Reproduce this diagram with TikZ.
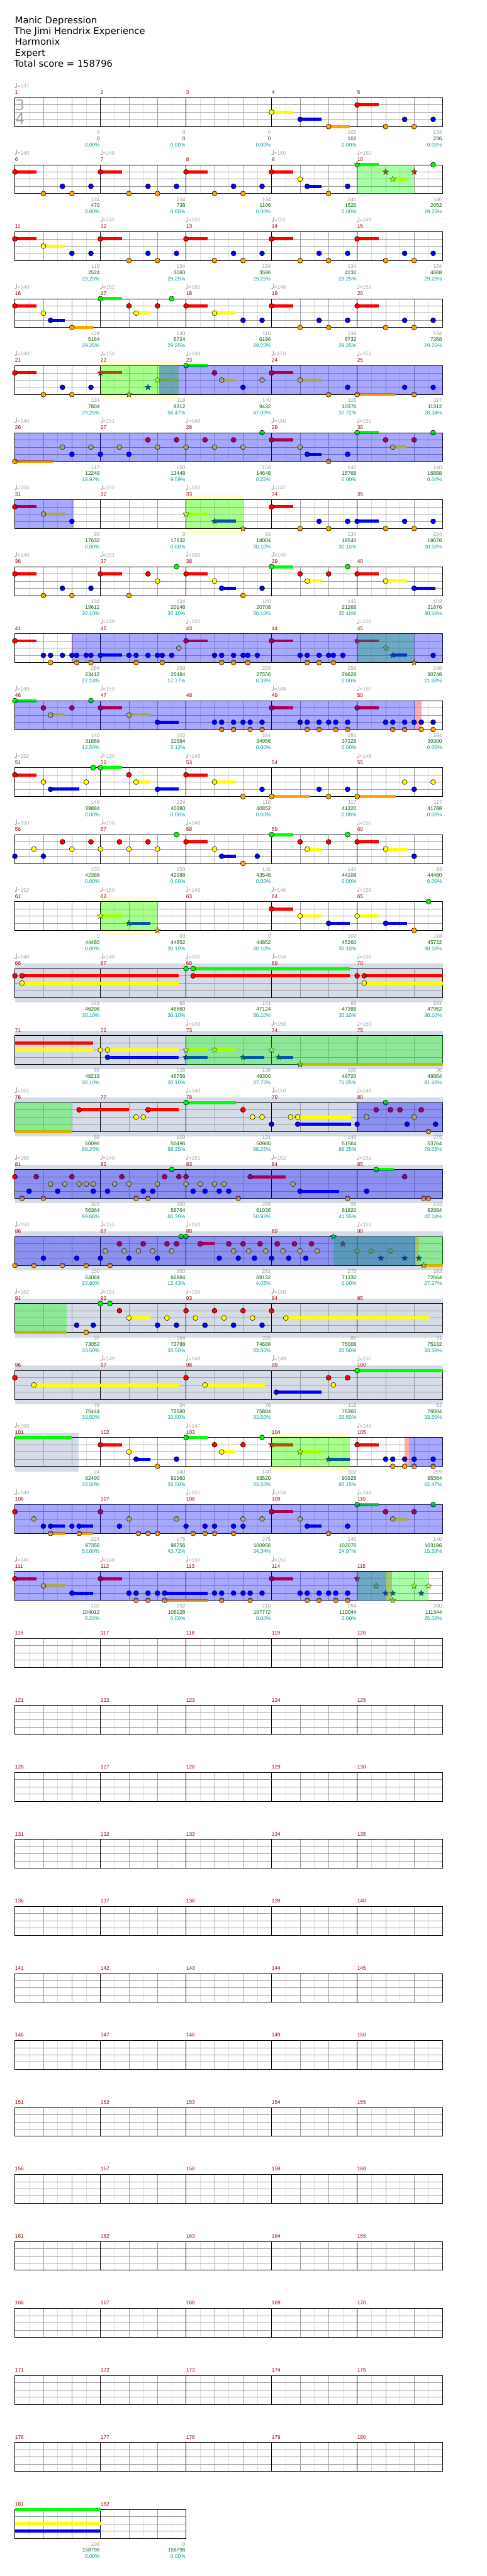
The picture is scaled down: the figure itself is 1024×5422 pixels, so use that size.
\documentclass[tikz,border=0pt]{standalone}
\usepackage{fontspec}
\setmainfont{DejaVu Sans}
\newfontfamily\lab{Liberation Sans}
\usetikzlibrary{shapes.geometric}
\definecolor{cG}{RGB}{0,255,0}
\definecolor{cR}{RGB}{255,0,0}
\definecolor{cY}{RGB}{255,255,0}
\definecolor{cB}{RGB}{0,0,255}
\definecolor{cO}{RGB}{255,165,0}
\definecolor{cLt}{RGB}{222,222,222}
\definecolor{cGr}{RGB}{155,155,155}
\definecolor{cNum}{RGB}{150,0,0}
\definecolor{cT}{RGB}{165,165,165}
\definecolor{cCnt}{RGB}{155,155,155}
\definecolor{cSc}{RGB}{0,100,0}
\definecolor{cPc}{RGB}{0,155,155}
\definecolor{cBkY}{RGB}{255,255,210}
\definecolor{cBkK}{RGB}{213,220,232}
\definecolor{cBkP}{RGB}{255,170,170}
\def\LG{0}\def\LR{1}\def\LY{2}\def\LB{3}\def\LO{4}
\tikzset{starn/.style={star,star points=5,star point ratio=2.3,minimum size=13pt,inner sep=0pt,draw=black!85,line width=0.6pt},
  smalltxt/.style={inner sep=0pt,font=\lab\fontsize{11}{12}\selectfont}}
\newcommand\ROW[1]{\pgfmathsetmacro\RY{205.7+141*#1}}
\newcommand\NXY[2]{\pgfmathsetmacro\xx{31.3+60*(#2)}\pgfmathsetmacro\yy{\RY+15.175*\csname L#1\endcsname}}
\newcommand\NO[2]{\NXY{#1}{#2}\fill[c#1,draw=black,line width=0.7pt] (\xx,\yy) circle (5.3);}
\newcommand\TB[3]{\NXY{#1}{#2}\pgfmathsetmacro\xe{31.3+60*(#2+#3)}\fill[c#1] (\xx,\yy-3.3) rectangle (\xe,\yy+3.3);}
\newcommand\NS[3]{\TB{#1}{#2}{#3}\NO{#1}{#2}}
\newcommand\SO[2]{\NXY{#1}{#2}\node[starn,fill=c#1] at (\xx,\yy) {};}
\newcommand\SSU[3]{\TB{#1}{#2}{#3}\SO{#1}{#2}}
\newcommand\OVB[2]{\fill[cB,opacity=.34] ({31.3+60*(#1)},\RY) rectangle ({31.3+60*(#2)},\RY+60.7);}
\newcommand\OVG[2]{\fill[cG,opacity=.34] ({31.3+60*(#1)},\RY) rectangle ({31.3+60*(#2)},\RY+60.7);}
\newcommand\BKY[2]{\fill[cBkY] ({31.3+60*(#1)},\RY-10.5) rectangle ({31.3+60*(#2)},\RY+71.2);}
\newcommand\BKK[2]{\fill[cBkK] ({31.3+60*(#1)},\RY-10.5) rectangle ({31.3+60*(#2)},\RY+71.2);}
\newcommand\BKP[2]{\fill[cBkP] ({31.3+60*(#1)},\RY) rectangle ({31.3+60*(#2)},\RY+60.7);}
\newcommand\STAFF[1]{%
  \pgfmathsetmacro\SW{180*#1}%
  \foreach \mm in {1,...,#1}{%
    \pgfmathsetmacro\xo{31.3+180*(\mm-1)}%
    \foreach \dd in {30,90,150} \draw[cLt,line width=1pt] (\xo+\dd,\RY) -- (\xo+\dd,\RY+60.7);
    \foreach \dd in {60,120} \draw[cGr,line width=1pt] (\xo+\dd,\RY) -- (\xo+\dd,\RY+60.7);
  }%
  \foreach \kk in {1,2,3} \draw[cGr,line width=1pt] (31.3,\RY+15.175*\kk) -- (31.3+\SW,\RY+15.175*\kk);
  \foreach \mm in {1,...,#1} \draw[black,line width=1pt] (31.3+180*\mm-180,\RY) -- (31.3+180*\mm-180,\RY+60.7);
  \draw[black,line width=1pt] (31.3,\RY) rectangle (31.3+\SW,\RY+60.7);
}
\newcommand\TEMPO[2]{%
  \fill[cT] (#1+1.6,\RY-21.8) ellipse (2.2 and 1.6);
  \draw[cT,line width=0.8pt] (#1+3.5,\RY-22) -- (#1+3.5,\RY-31.6);
  \node[smalltxt,anchor=base west,text=cT] at (#1+5.2,\RY-20.6) {=#2};
}
\newcommand\MI[6]{%
  \pgfmathsetmacro\xo{31.3+180*#1}%
  \node[smalltxt,anchor=base west,text=cNum] (m#2) at (\xo+0.2,\RY-7.3) {#2};
  \ifx\relax#3\relax\else\TEMPO{\xo}{#3}\fi
  \pgfmathsetmacro\xf{\xo+178.8}%
  \ifx\relax#4\relax\else
  \node[smalltxt,anchor=base east,text=cCnt] (c#2) at (\xf,\RY+77) {#4};
  \node[smalltxt,anchor=base east,text=cSc] (s#2) at (\xf,\RY+89.8) {#5};
  \node[smalltxt,anchor=base east,text=cPc] (p#2) at (\xf,\RY+102.8) {#6\%};
  \fi
}
\newcommand\MN[2]{\MI{#1}{#2}{}{}{}{}}
\newcommand\PAT[1]{\NS{R}{3*#1}{.75}\NO{O}{3*#1+1}\NO{B}{3*#1+1.667}\NO{O}{3*#1+2}\NO{B}{3*#1+2.667}}
\begin{document}
\begin{tikzpicture}[x=1pt,y=-1pt]
\useasboundingbox[fill=white] (0,0) rectangle (1024,5422);
\begin{scope}[every node/.style={anchor=base west,inner sep=0pt,font=\fontsize{19.5}{23}\selectfont}]
\node (t1) at (31.3,49.3) {Manic Depression};
\node (t2) at (29.5,72.3) {The Jimi Hendrix Experience};
\node (t3) at (31.3,95.3) {Harmonix};
\node (t4) at (31.3,118.3) {Expert};
\node (t5) at (29.5,141.3) {Total score = 158796};
\end{scope}
% ---------- row 0
\ROW{0}\STAFF{5}
\node[text=cT,inner sep=0pt,font=\fontsize{31}{31}\selectfont] (ts3) at (42,221) {3};
\node[text=cT,inner sep=0pt,font=\fontsize{31}{31}\selectfont] (ts4) at (42,250.5) {4};
\NS{Y}{9}{.75}\NS{B}{10}{.75}\NS{O}{11}{.75}\NS{R}{12}{.75}\NO{O}{13}\NO{B}{13.667}\NO{O}{14}\NO{B}{14.667}
\MI{0}{1}{137}{0}{0}{0.00}\MI{1}{2}{}{0}{0}{0.00}\MI{2}{3}{}{0}{0}{0.00}\MI{3}{4}{}{102}{102}{0.00}\MI{4}{5}{}{134}{236}{0.00}
% ---------- row 1
\ROW{1}\STAFF{5}
\PAT{0}\PAT{1}\NS{R}{6}{.75}\NO{O}{7}\NO{B}{7.667}\NO{O}{8}\NO{B}{8.667}
\NS{R}{9}{.75}\NO{Y}{10}\NS{B}{10.25}{.5}\NO{O}{11}\NO{B}{11.667}
\SSU{G}{12}{.75}\SO{R}{13}\SSU{Y}{13.25}{.5}\SO{R}{14}\NO{G}{14.667}
\OVG{12}{14}
\MI{0}{6}{148}{134}{470}{0.00}\MI{1}{7}{148}{134}{738}{0.00}\MI{2}{8}{}{134}{1106}{0.00}\MI{3}{9}{150}{140}{1526}{0.00}\MI{4}{10}{150}{140}{2052}{29.25}
% ---------- row 2
\ROW{2}\STAFF{5}
\NS{R}{0}{.75}\NS{Y}{1}{.75}\NO{B}{2}\NO{B}{2.667}\PAT{1}\PAT{2}\PAT{3}\PAT{4}
\MI{0}{11}{}{118}{2524}{29.25}\MI{1}{12}{145}{134}{3060}{29.25}\MI{2}{13}{150}{134}{3596}{29.25}\MI{3}{14}{151}{134}{4132}{29.25}\MI{4}{15}{149}{134}{4668}{29.25}
% ---------- row 3
\ROW{3}\STAFF{5}
\NS{R}{0}{.75}\NO{Y}{1}\NS{B}{1.25}{.5}\NS{O}{2}{.75}\NS{G}{3}{.75}\NO{R}{4}\NS{Y}{4.25}{.5}\NO{R}{5}\NO{G}{5.5}
\NS{R}{6}{.75}\NS{Y}{7}{.75}\NO{B}{8}\NO{B}{8.667}\PAT{3}\PAT{4}
\MI{0}{16}{149}{124}{5164}{29.25}\MI{1}{17}{152}{140}{5724}{29.25}\MI{2}{18}{150}{118}{6196}{29.25}\MI{3}{19}{148}{134}{6732}{29.25}\MI{4}{20}{152}{134}{7268}{29.25}
% ---------- row 4
\ROW{4}\BKY{3}{5.75}\STAFF{5}
\PAT{0}\SSU{R}{3}{.75}\SO{O}{4}\SO{B}{4.667}\SSU{Y}{5}{.75}\NS{G}{6}{.75}\NO{R}{7}\NS{Y}{7.25}{.5}\NO{B}{8}\NO{Y}{8.667}
\NS{R}{9}{.75}\NS{Y}{10}{.75}\NO{O}{11}\NO{B}{11.667}\NS{O}{12}{1.36}\NO{B}{13.667}\NO{O}{14}\NO{B}{14.667}
\OVG{3}{5.75}\OVB{5.05}{15}
\MI{0}{21}{149}{134}{7804}{29.25}\MI{1}{22}{150}{118}{8312}{56.47}\MI{2}{23}{149}{140}{9432}{47.09}\MI{3}{24}{150}{118}{10376}{37.72}\MI{4}{25}{152}{117}{11312}{28.34}
% ---------- row 5
\ROW{5}\STAFF{5}
\NS{O}{0}{1.36}\NO{Y}{1.667}\NO{B}{2}\NO{Y}{2.667}\NO{B}{3}\NO{Y}{3.667}\NO{B}{4}\NO{R}{4.667}\NO{Y}{5}\NO{R}{5.667}\NO{Y}{6}\NO{R}{6.667}\NO{Y}{7}\NO{R}{7.667}\NO{Y}{8}\NO{G}{8.667}
\NS{R}{9}{.75}\NO{Y}{10}\NS{B}{10.25}{.5}\NO{O}{11}\NO{B}{11.667}\NS{G}{12}{.75}\NO{R}{13}\NS{Y}{13.25}{.5}\NO{R}{14}\NO{G}{14.667}
\OVB{0}{15}
\MI{0}{26}{146}{117}{12248}{18.97}\MI{1}{27}{151}{150}{13448}{9.59}\MI{2}{28}{148}{150}{14648}{0.22}\MI{3}{29}{150}{140}{15768}{0.00}\MI{4}{30}{151}{140}{16888}{0.00}
% ---------- row 6
\ROW{6}\BKY{6}{8}\STAFF{5}
\NS{R}{0}{.75}\NS{Y}{1}{.75}\NO{B}{2}\SSU{Y}{6}{.75}\SSU{B}{7}{.75}\SO{O}{8}
\NS{R}{9}{.75}\NO{O}{10}\NO{B}{10.667}\NO{O}{11}\NO{B}{11.667}\NS{B}{12}{.75}\NO{O}{13}\NO{B}{13.667}\NO{O}{14}\NO{B}{14.667}
\OVG{6}{8}\OVB{0}{2.05}
\MI{0}{31}{150}{93}{17632}{0.00}\MI{1}{32}{152}{0}{17632}{0.00}\MI{2}{33}{150}{93}{18004}{30.10}\MI{3}{34}{147}{134}{18540}{30.10}\MI{4}{35}{}{134}{19076}{30.10}
% ---------- row 7
\ROW{7}\STAFF{5}
\PAT{0}\NS{R}{3}{.75}\NO{O}{4}\NO{R}{4.667}\NO{Y}{5}\NO{G}{5.667}\NS{R}{6}{.75}\NO{Y}{7}\NS{B}{7.25}{.5}\NO{O}{8}\NO{B}{8.667}
\NS{G}{9}{.75}\NO{R}{10}\NS{Y}{10.25}{.5}\NO{R}{11}\NO{G}{11.667}\NS{R}{12}{.75}\NS{Y}{13}{.75}\NS{B}{14}{.75}
\MI{0}{36}{149}{134}{19612}{30.10}\MI{1}{37}{151}{134}{20148}{30.10}\MI{2}{38}{150}{140}{20708}{30.10}\MI{3}{39}{149}{140}{21268}{30.10}\MI{4}{40}{}{102}{21676}{30.10}
% ---------- row 8
\ROW{8}\BKP{2}{2.04}\STAFF{5}
\NS{R}{0}{.75}\NO{B}{1}\NO{O}{1.25}\NO{B}{1.25}\NO{B}{1.667}\NO{B}{2}\NO{B}{2.167}\NO{O}{2.167}\NO{B}{2.5}\NO{B}{2.667}\NO{O}{2.667}\NS{B}{3}{.75}
\NO{B}{4}\NO{B}{4.25}\NO{O}{4.25}\NO{B}{4.667}\NO{B}{5}\NO{B}{5.167}\NO{O}{5.167}\NO{B}{5.5}\NO{Y}{5.75}
\NS{R}{6}{.75}\NO{B}{7}\NO{B}{7.25}\NO{O}{7.25}\NO{B}{7.667}\NO{O}{7.667}\NO{B}{8}\NO{B}{8.167}\NO{O}{8.167}\NO{B}{8.5}
\NS{R}{9}{.75}\NO{B}{10}\NO{B}{10.25}\NO{O}{10.25}\NO{B}{10.667}\NO{O}{10.667}\NO{B}{11}\NO{B}{11.167}\NO{O}{11.167}\NO{B}{11.5}
\SSU{R}{12}{.75}\SO{Y}{13}\SSU{B}{13.25}{.5}\SO{O}{14}\NO{B}{14.667}
\OVG{12}{14}\OVB{2}{15}
\MI{0}{41}{}{284}{23412}{27.14}\MI{1}{42}{149}{259}{25484}{17.77}\MI{2}{43}{152}{259}{27556}{8.39}\MI{3}{44}{}{259}{29628}{0.00}\MI{4}{45}{150}{140}{30748}{21.88}
% ---------- row 9
\ROW{9}\BKP{14.04}{14.26}\STAFF{5}
\NS{G}{0}{.75}\NO{R}{1}\NS{Y}{1.25}{.5}\NO{R}{2}\NO{G}{2.667}\NS{R}{3}{.75}\NS{Y}{4}{.75}\NS{B}{5}{.75}
\NO{B}{7}\NO{B}{7.25}\NO{O}{7.25}\NO{B}{7.667}\NO{O}{7.667}\NO{B}{8}\NO{B}{8.25}\NO{O}{8.25}\NO{B}{8.667}\NO{O}{8.667}
\NS{R}{9}{.75}\NO{B}{10}\NO{B}{10.25}\NO{O}{10.25}\NO{B}{10.667}\NO{O}{10.667}\NO{B}{11}\NO{B}{11.25}\NO{O}{11.25}\NO{B}{11.667}\NO{O}{11.667}
\NS{R}{12}{.75}\NO{B}{13}\NO{B}{13.25}\NO{O}{13.25}\NO{B}{13.667}\NO{O}{13.667}\NO{B}{14}\NO{B}{14.25}\NO{O}{14.25}\NO{B}{14.667}\NO{O}{14.667}
\OVB{0}{14.04}
\MI{0}{46}{149}{140}{31868}{12.50}\MI{1}{47}{150}{102}{32684}{3.12}\MI{2}{48}{}{284}{34956}{0.00}\MI{3}{49}{149}{284}{37228}{0.00}\MI{4}{50}{150}{284}{39300}{0.00}
% ---------- row 10
\ROW{10}\STAFF{5}
\NS{R}{0}{.75}\NO{Y}{1}\NS{B}{1.25}{1}\NO{Y}{2.5}\NO{G}{2.75}\NS{G}{3}{.75}\NO{R}{4}\NS{Y}{4.25}{.5}\NS{B}{5}{.75}\NS{R}{6}{.75}\NS{Y}{7}{.75}\NO{O}{8}\NO{B}{8.667}
\NS{O}{9}{1.36}\NO{B}{10.667}\NO{O}{11}\NO{B}{11.667}\NS{O}{12}{1.36}\NO{Y}{13.667}\NO{B}{14}\NO{Y}{14.667}
\MI{0}{51}{152}{146}{39884}{0.00}\MI{1}{52}{150}{124}{40380}{0.00}\MI{2}{53}{148}{118}{40852}{0.00}\MI{3}{54}{}{117}{41320}{0.00}\MI{4}{55}{149}{117}{41788}{0.00}
% ---------- row 11
\ROW{11}\STAFF{5}
\NO{B}{0}\NO{Y}{.667}\NO{B}{1}\NO{R}{1.667}\NO{Y}{2}\NO{R}{2.667}\NO{Y}{3}\NO{R}{3.667}\NO{Y}{4}\NO{R}{4.667}\NO{Y}{5}\NO{G}{5.667}
\NS{R}{6}{.75}\NO{Y}{7}\NS{B}{7.25}{.5}\NO{O}{8}\NO{B}{8.5}\NS{G}{9}{.75}\NO{R}{10}\NS{Y}{10.25}{.5}\NO{R}{11}\NO{G}{11.667}\NS{R}{12}{.75}\NS{Y}{13}{.75}\NO{B}{14}
\MI{0}{56}{150}{150}{42388}{0.00}\MI{1}{57}{150}{150}{42988}{0.00}\MI{2}{58}{149}{140}{43548}{0.00}\MI{3}{59}{}{140}{44108}{0.00}\MI{4}{60}{150}{93}{44480}{0.00}
% ---------- row 12
\ROW{12}\BKY{3}{5}\STAFF{5}
\SSU{Y}{3}{.75}\SSU{B}{4}{.75}\SO{O}{5}\NS{R}{9}{.75}\NS{Y}{10}{.75}\NS{B}{11}{.75}\NS{Y}{12}{.75}\NS{B}{13}{.75}\NO{O}{14}\NO{G}{14.5}
\OVG{3}{5}
\MI{0}{61}{152}{0}{44480}{0.00}\MI{1}{62}{150}{93}{44852}{30.10}\MI{2}{63}{149}{0}{44852}{30.10}\MI{3}{64}{146}{102}{45260}{30.10}\MI{4}{65}{150}{118}{45732}{30.10}
% ---------- row 13
\ROW{13}\BKK{0}{15}\STAFF{5}
\NO{R}{0}\NS{R}{.25}{5.5}\NS{Y}{.25}{5.5}\NO{G}{6}\NS{G}{6.25}{5.5}\NS{R}{6.25}{5.5}\NO{R}{12}\NS{R}{12.25}{2.75}\NS{Y}{12.25}{2.75}
\MI{0}{66}{148}{141}{46296}{30.10}\MI{1}{67}{146}{66}{46560}{30.10}\MI{2}{68}{152}{141}{47124}{30.10}\MI{3}{69}{154}{66}{47388}{30.10}\MI{4}{70}{150}{141}{47952}{30.10}
% ---------- row 14
\ROW{14}\BKK{0}{15}\STAFF{5}
\TB{R}{0}{2.75}\TB{Y}{0}{2.75}\NO{Y}{3}\NS{Y}{3.25}{2.5}\NS{B}{3.25}{2.5}\SSU{Y}{6}{.75}\SSU{B}{6}{.75}\SSU{Y}{7}{.75}\SSU{B}{8}{.75}\SO{Y}{9}\SSU{B}{9.25}{.5}\SSU{O}{10}{5}
\OVG{6}{15}
\MI{0}{71}{}{66}{48216}{30.10}\MI{1}{72}{}{135}{48756}{30.10}\MI{2}{73}{149}{136}{49300}{37.75}\MI{3}{74}{150}{105}{49720}{71.25}\MI{4}{75}{150}{36}{49864}{81.45}
% ---------- row 15
\ROW{15}\BKK{0}{15}\BKP{11.98}{12.04}\STAFF{5}
\TB{O}{0}{2}\NS{R}{2.25}{1.75}\NO{Y}{4.25}\NO{Y}{4.5}\NS{R}{4.667}{1.083}\NS{G}{6}{1.75}\NO{R}{8}\NO{Y}{8.333}\NO{Y}{8.667}\NO{B}{9}\NO{Y}{9.667}\NS{Y}{9.917}{1.87}\NS{B}{9.917}{1.87}
\NO{B}{12}\NO{Y}{12.333}\NO{R}{12.667}\NO{G}{13}\NO{R}{13.167}\NO{R}{13.5}\NO{B}{13.75}\NO{Y}{14}\NO{R}{14.25}\NO{O}{14.5}\NO{B}{14.75}
\OVG{0}{2}\OVB{12}{15}
\MI{0}{76}{151}{58}{50096}{88.25}\MI{1}{77}{}{100}{50496}{88.25}\MI{2}{78}{149}{121}{50980}{88.25}\MI{3}{79}{150}{146}{51564}{88.25}\MI{4}{80}{149}{275}{53764}{79.05}
% ---------- row 16
\ROW{16}\BKK{0}{15}\STAFF{5}
\NO{R}{0}\NO{O}{.25}\NO{B}{.5}\NO{R}{.75}\NO{O}{1}\NO{Y}{1.25}\NO{B}{1.5}\NO{Y}{1.75}\NO{R}{2}\NO{Y}{2.25}\NO{Y}{2.5}\NO{Y}{2.75}\NO{B}{2.75}
\NO{B}{3.25}\NO{Y}{3.5}\NO{R}{3.75}\NO{Y}{4}\NO{O}{4.25}\NO{B}{4.5}\NO{O}{4.667}\NO{B}{4.833}\NO{Y}{5}\NO{R}{5.25}\NO{G}{5.5}\NO{R}{5.75}
\NO{R}{6}\NO{Y}{6}\NO{B}{6.25}\NO{Y}{6.5}\NO{B}{6.667}\NO{Y}{7}\NO{B}{7.167}\NO{Y}{7.333}\NO{B}{7.5}\NO{O}{7.833}\NS{R}{8.25}{1.25}\NO{Y}{9.75}\NS{B}{10}{1.37}\NO{O}{11.667}
\NO{B}{12.333}\NS{G}{12.667}{.63}\NO{R}{13.667}\NO{O}{14.333}\NO{O}{14.5}
\OVB{0}{15}
\MI{0}{81}{150}{325}{56364}{69.68}\MI{1}{82}{149}{300}{58764}{60.30}\MI{2}{83}{151}{284}{61036}{50.93}\MI{3}{84}{152}{98}{61820}{41.55}\MI{4}{85}{151}{133}{62884}{32.18}
% ---------- row 17
\ROW{17}\BKK{0}{15}\BKP{14.04}{14.18}\STAFF{5}
\NO{O}{0}\NO{O}{.667}\NO{B}{1}\NO{O}{1.667}\NO{B}{2.167}\NO{O}{2.5}\NO{B}{3}\NO{Y}{3.167}\NO{O}{3.333}\NO{R}{3.667}\NO{Y}{3.833}\NO{B}{4}\NO{Y}{4.333}\NO{R}{4.5}\NO{Y}{4.833}
\NO{B}{5}\NO{R}{5.333}\NO{Y}{5.5}\NO{R}{5.667}\NO{G}{5.833}\NO{G}{6}\NS{R}{6.5}{.5}\NO{B}{7.167}\NO{R}{7.5}\NO{Y}{7.667}\NO{B}{7.833}\NO{R}{8}\NO{Y}{8.2}\NO{B}{8.4}\NO{R}{8.6}\NO{Y}{8.8}
\NO{B}{9}\NO{R}{9.2}\NO{Y}{9.4}\NO{B}{9.6}\NO{R}{9.8}\NO{Y}{10}\NO{B}{10.2}\NO{R}{10.4}\NO{Y}{10.6}
\SO{G}{11.167}\SO{R}{11.5}\SO{Y}{12}\SO{Y}{12.5}\SO{B}{12.833}\SO{Y}{13.167}\SO{B}{13.667}\SO{B}{14.167}\SSU{O}{14.333}{.667}
\OVG{11.17}{15}\OVB{0}{14.04}
\MI{0}{86}{153}{150}{64084}{22.80}\MI{1}{87}{155}{350}{66884}{13.43}\MI{2}{88}{153}{281}{69132}{4.05}\MI{3}{89}{}{275}{71332}{0.00}\MI{4}{90}{153}{183}{72664}{27.27}
% ---------- row 18
\ROW{18}\BKK{0}{15}\STAFF{5}
\TB{O}{0}{1.81}\NO{B}{2.167}\NO{O}{2.5}\NO{B}{2.75}\NO{G}{3}\NO{G}{3.333}\NO{R}{3.667}\NS{Y}{4}{.75}\NO{B}{5}\NO{Y}{5.333}\NO{B}{5.667}
\NO{R}{6}\NO{Y}{6.333}\NO{B}{6.667}\NO{R}{7}\NO{Y}{7.333}\NO{B}{7.667}\NO{R}{8}\NO{Y}{8.333}\NO{B}{8.667}\NO{R}{9}\NS{Y}{9.5}{5.05}
\OVG{0}{1.81}
\MI{0}{91}{152}{97}{73052}{33.50}\MI{1}{92}{151}{184}{73788}{33.50}\MI{2}{93}{158}{225}{74688}{33.50}\MI{3}{94}{150}{80}{75008}{33.50}\MI{4}{95}{}{31}{75132}{33.50}
% ---------- row 19
\ROW{19}\BKK{0}{15}\STAFF{5}
\NO{R}{0}\NS{Y}{.667}{5.1}\NO{R}{6}\NS{Y}{6.667}{2.1}\NS{B}{9.167}{1.58}\NO{R}{11}\NO{Y}{11.167}\NO{R}{11.667}\NS{G}{12}{3}
\MI{0}{96}{}{78}{75444}{33.50}\MI{1}{97}{149}{34}{75580}{33.50}\MI{2}{98}{149}{76}{75884}{33.50}\MI{3}{99}{149}{119}{76360}{33.50}\MI{4}{100}{150}{61}{76604}{33.50}
% ---------- row 20
\ROW{20}\BKK{0}{2.24}\BKY{9}{11.75}\BKP{13.67}{13.82}\STAFF{5}
\TB{G}{0}{2}\NS{R}{3}{.75}\NO{Y}{4}\NS{B}{4.25}{.5}\NO{O}{5}\NO{B}{5.667}\NS{G}{6}{.75}\NO{R}{7}\NS{Y}{7.25}{.5}\NO{R}{8}\NO{G}{8.667}
\SSU{R}{9}{.75}\SSU{Y}{10}{.75}\SSU{B}{11}{.75}\NS{R}{12}{.75}\NO{B}{13}\NO{B}{13.25}\NO{O}{13.25}\NO{B}{13.667}\NO{O}{13.667}\NO{B}{14}\NO{O}{14}\NO{B}{14.667}\NO{O}{14.667}
\OVG{9}{11.75}\OVB{13.82}{15}
\MI{0}{101}{150}{24}{92400}{33.50}\MI{1}{102}{}{140}{92960}{33.50}\MI{2}{103}{147}{140}{93520}{33.50}\MI{3}{104}{}{102}{93928}{66.15}\MI{4}{105}{149}{259}{95564}{62.47}
% ---------- row 21
\ROW{21}\STAFF{5}
\NO{R}{0}\NO{Y}{.667}\NO{B}{1}\NS{B}{1.25}{.5}\NS{O}{1.25}{.5}\NO{B}{2}\NS{B}{2.25}{.5}\NS{O}{2.25}{.5}\NO{R}{3}\NO{B}{3.667}\NO{Y}{4}\NO{O}{4.333}\NO{O}{4.667}\NO{O}{5}\NO{Y}{5.667}
\NO{B}{6}\NO{O}{6.25}\NO{B}{6.667}\NO{O}{6.667}\NO{B}{7}\NO{O}{7}\NO{B}{7.667}\NO{O}{7.667}\NO{B}{8}\NO{Y}{8}\NO{Y}{8.667}
\NS{R}{9}{.75}\NO{Y}{10}\NS{B}{10.25}{.5}\NO{O}{11}\NO{B}{11.667}\NS{G}{12}{.75}\NO{R}{13}\NS{Y}{13.25}{.5}\NO{R}{14}\NO{G}{14.667}
\OVB{0}{15}
\MI{0}{106}{149}{224}{97356}{53.09}\MI{1}{107}{}{175}{98756}{43.72}\MI{2}{108}{151}{275}{100956}{34.34}\MI{3}{109}{154}{140}{102076}{24.97}\MI{4}{110}{148}{140}{103196}{15.59}
% ---------- row 22
\ROW{22}\BKP{13}{13.23}\STAFF{5}
\NS{R}{0}{.75}\NS{Y}{1}{.75}\NS{B}{2}{.75}\NS{R}{3}{.75}\NO{B}{4}\NO{B}{4.25}\NO{O}{4.25}\NO{B}{4.667}\NO{O}{4.667}\NO{B}{5}\NS{B}{5.25}{1.5}\NS{O}{5.25}{1.5}
\NO{B}{7}\NO{B}{7.25}\NO{O}{7.25}\NO{B}{7.667}\NO{B}{8}\NO{B}{8.25}\NO{O}{8.25}\NO{B}{8.667}
\NS{R}{9}{.75}\NO{B}{10}\NO{B}{10.25}\NO{O}{10.25}\NO{B}{10.667}\NO{O}{10.667}\NO{B}{11}\NO{B}{11.25}\NO{O}{11.25}\NO{B}{11.667}\NO{O}{11.667}
\SO{R}{12}\SO{Y}{12.667}\SO{B}{13}\SO{B}{13.25}\SO{O}{13.25}\SO{Y}{14}\SO{B}{14.25}\SO{Y}{14.5}
\OVG{12}{14.51}\OVB{0}{13}
\MI{0}{111}{147}{102}{104012}{6.22}\MI{1}{112}{148}{252}{106028}{0.00}\MI{2}{113}{150}{218}{107772}{0.00}\MI{3}{114}{151}{284}{110044}{0.00}\MI{4}{115}{}{200}{111344}{25.00}
% ---------- rows 23-35 (to be filled)
\foreach \rr in {23,...,35}{%
  \ROW{\rr}\STAFF{5}%
  \foreach \cc in {0,...,4}{\pgfmathtruncatemacro\nn{5*\rr+\cc+1}\MN{\cc}{\nn}}%
}
% ---------- row 36
\ROW{36}\STAFF{2}
\TB{G}{0}{3}\TB{Y}{0}{3}\TB{B}{0}{3}
\MI{0}{181}{}{108}{158796}{0.00}\MI{1}{182}{}{0}{158796}{0.00}
\end{tikzpicture}
\end{document}
